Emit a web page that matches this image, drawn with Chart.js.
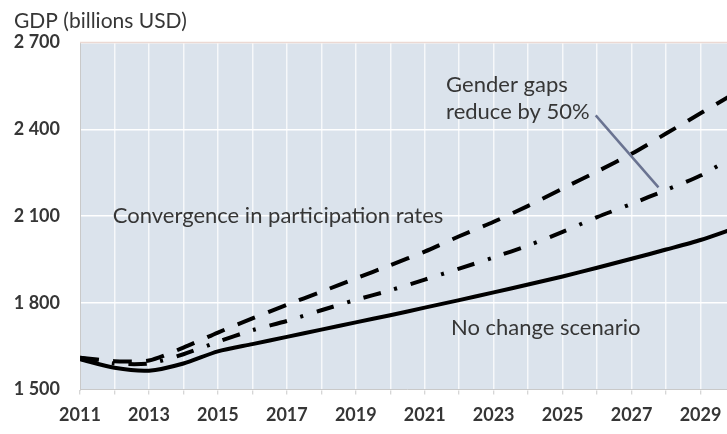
<!DOCTYPE html>
<html>
<head>
<meta charset="utf-8">
<script src="https://cdn.jsdelivr.net/npm/chart.js@4/dist/chart.umd.min.js"></script>
<style>
  html, body { margin: 0; padding: 0; background: #ffffff; overflow: hidden; }
  #wrap { width: 727px; height: 434px; overflow: hidden; position: relative; }
  canvas { display: block; }
</style>
</head>
<body>
<div id="wrap"><canvas id="gdp" width="745" height="434"></canvas></div>
<script>
// Projected GDP, billions USD, under three participation scenarios
const years = [2011, 2012, 2013, 2014, 2015, 2016, 2017, 2018, 2019, 2020,
               2021, 2022, 2023, 2024, 2025, 2026, 2027, 2028, 2029, 2030];
const noChange = [1605, 1575, 1565, 1590, 1632, 1657, 1682, 1707, 1732, 1757,
                  1783, 1809, 1836, 1863, 1891, 1921, 1952, 1984, 2017, 2058];
const convergence = [1610, 1598, 1600, 1645, 1697, 1746, 1793, 1838, 1884, 1930,
                     1977, 2030, 2080, 2135, 2195, 2254, 2315, 2385, 2455, 2525];
const halfGap = [1610, 1590, 1590, 1622, 1665, 1705, 1737, 1774, 1810, 1843,
                 1880, 1918, 1957, 1998, 2045, 2096, 2142, 2190, 2240, 2308];

const xTickLabels = ['2011', '2013', '2015', '2017', '2019', '2021', '2023', '2025', '2027', '2029'];
const yTickLabels = ['1 500', '1 800', '2 100', '2 400', '2 700'];

const axisTitle = 'GDP (billions USD)';
const notes = [
  { text: 'Gender gaps',                        x: 2021.62, y: 2555 },
  { text: 'reduce by 50%',                      x: 2021.62, y: 2461 },
  { text: 'Convergence in participation rates', x: 2011.95, y: 2102 },
  { text: 'No change scenario',                 x: 2021.76, y: 1712 }
];
const leader = { x1: 2025.96, y1: 2448, x2: 2027.78, y2: 2199 };

const toPoints = arr => years.map((yr, i) => ({ x: yr, y: arr[i] }));
const textColor = '#363636';
const fontFamily = 'Lato, "Open Sans", sans-serif';

// Shaded plot area plus thin top border
const plotBackground = {
  id: 'plotBackground',
  beforeDraw(chart) {
    const { ctx, chartArea: a } = chart;
    ctx.save();
    ctx.fillStyle = '#dbe3ec';
    ctx.fillRect(a.left, a.top, a.right - a.left, a.bottom - a.top);
    ctx.restore();
  },
  afterDraw(chart) {
    const { ctx, chartArea: a } = chart;
    ctx.save();
    ctx.strokeStyle = '#ecd9d3';
    ctx.lineWidth = 1.5;
    ctx.beginPath();
    ctx.moveTo(a.left, a.top);
    ctx.lineTo(a.right, a.top);
    ctx.stroke();
    ctx.restore();
  }
};

// Axis title and in-plot scenario labels
const labelsPlugin = {
  id: 'labelsPlugin',
  afterDatasetsDraw(chart) {
    const { ctx, scales: { x, y } } = chart;
    ctx.save();
    ctx.fillStyle = textColor;
    ctx.font = '21px ' + fontFamily;
    ctx.textBaseline = 'middle';
    ctx.textAlign = 'left';
    ctx.fillText(axisTitle, 14, 21);

    ctx.font = '22px ' + fontFamily;
    notes.forEach(n => ctx.fillText(n.text, x.getPixelForValue(n.x), y.getPixelForValue(n.y)));

    ctx.strokeStyle = '#6a7391';
    ctx.lineWidth = 2.5;
    ctx.beginPath();
    ctx.moveTo(x.getPixelForValue(leader.x1), y.getPixelForValue(leader.y1));
    ctx.lineTo(x.getPixelForValue(leader.x2), y.getPixelForValue(leader.y2));
    ctx.stroke();
    ctx.restore();
  }
};

new Chart(document.getElementById('gdp'), {
  type: 'line',
  data: {
    datasets: [
      { label: 'No change scenario', data: toPoints(noChange),
        borderColor: '#000000', borderWidth: 4, borderCapStyle: 'butt' },
      { label: 'Convergence in participation rates', data: toPoints(convergence),
        borderColor: '#000000', borderWidth: 4, borderDash: [19, 14], borderCapStyle: 'butt' },
      { label: 'Gender gaps reduce by 50%', data: toPoints(halfGap),
        borderColor: '#000000', borderWidth: 4, borderDash: [18, 14, 3, 14], borderCapStyle: 'butt' }
    ]
  },
  options: {
    responsive: false,
    animation: false,
    elements: { point: { radius: 0 }, line: { tension: 0.25 } },
    layout: { padding: { top: 42.5, right: 8, left: 0, bottom: 0 } },
    plugins: { legend: { display: false }, tooltip: { enabled: false } },
    scales: {
      x: {
        type: 'linear',
        min: 2011,
        max: 2030,
        afterFit(scale) { scale.height = 44.5; },
        border: { color: '#c9c9c9', width: 1 },
        grid: { color: 'rgba(255,255,255,0.75)', lineWidth: 1.5, drawTicks: true,
                tickLength: 5, tickColor: '#c9c9c9', tickWidth: 1 },
        ticks: {
          stepSize: 1, autoSkip: false, maxRotation: 0, padding: 10,
          color: textColor, font: { family: fontFamily, size: 18, weight: 'bold' },
          callback(value) {
            const lbl = xTickLabels.find(l => Number(l) === value);
            return lbl === undefined ? '' : lbl;
          }
        }
      },
      y: {
        type: 'linear',
        min: 1500,
        max: 2700,
        afterFit(scale) { scale.width = 80; },
        border: { color: '#c9c9c9', width: 1 },
        grid: { color: '#ffffff', lineWidth: 1.5, drawTicks: false },
        ticks: {
          stepSize: 300, padding: 20,
          color: textColor, font: { family: fontFamily, size: 18, weight: 'bold' },
          callback(value, index) { return yTickLabels[index]; }
        }
      }
    }
  },
  plugins: [plotBackground, labelsPlugin]
});
</script>
</body>
</html>
